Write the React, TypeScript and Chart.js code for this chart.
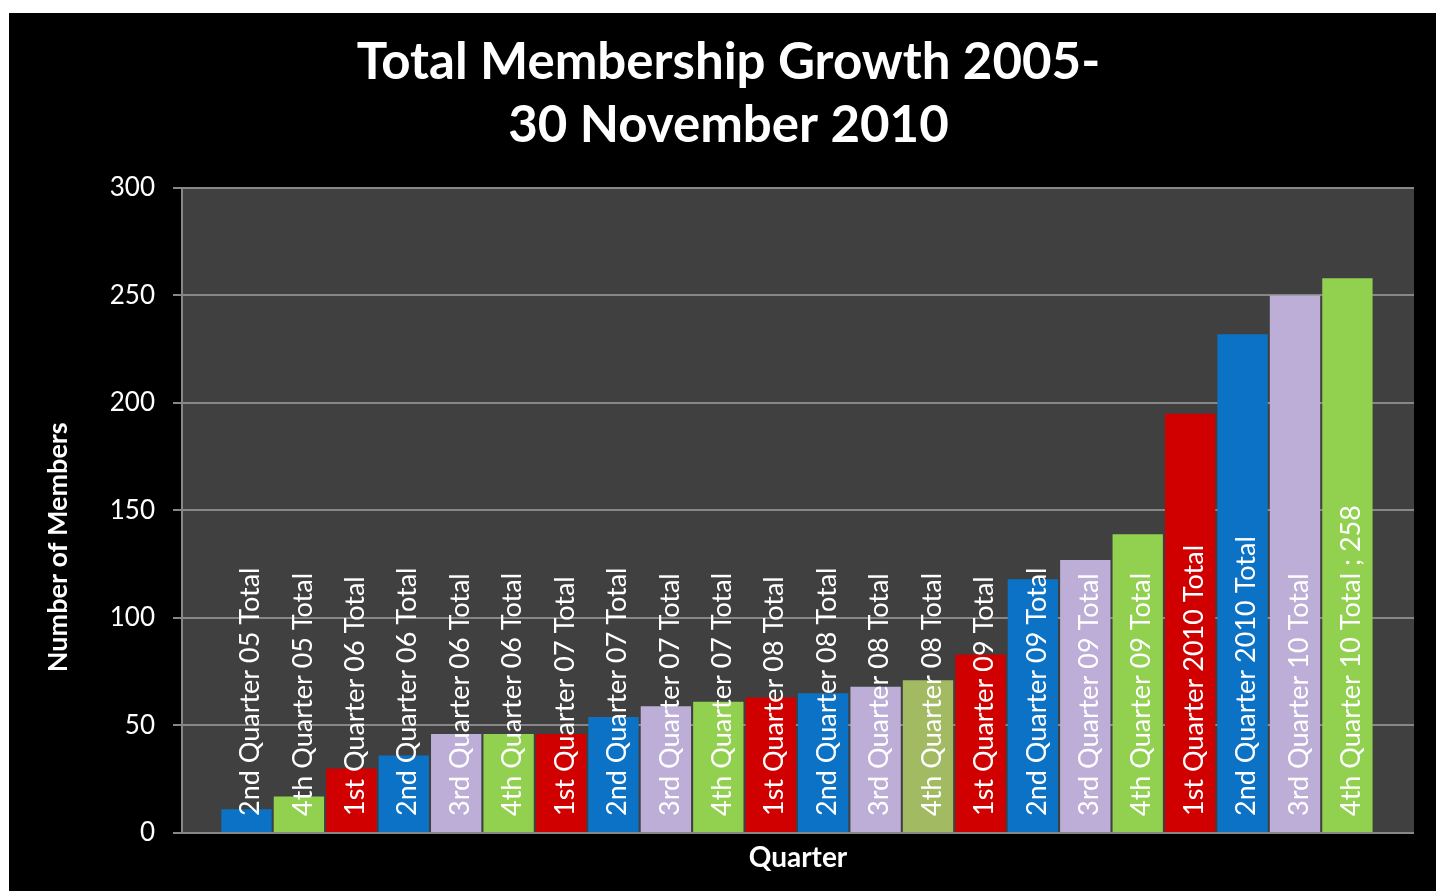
import React, { useEffect, useRef } from "react";
import { Chart, registerables } from "chart.js";

Chart.register(...registerables);

const TITLE_LINES = ["Total Membership Growth 2005-", "30 November 2010"];
const Y_TITLE = "Number of Members";
const X_TITLE = "Quarter";

const CATEGORIES = [
  "2nd Quarter 05 Total",
  "4th Quarter 05 Total",
  "1st Quarter 06 Total",
  "2nd Quarter 06 Total",
  "3rd Quarter 06 Total",
  "4th Quarter 06 Total",
  "1st Quarter 07 Total",
  "2nd Quarter 07 Total",
  "3rd Quarter 07 Total",
  "4th Quarter 07 Total",
  "1st Quarter 08 Total",
  "2nd Quarter 08 Total",
  "3rd Quarter 08 Total",
  "4th Quarter 08 Total",
  "1st Quarter 09 Total",
  "2nd Quarter 09 Total",
  "3rd Quarter 09 Total",
  "4th Quarter 09 Total",
  "1st Quarter 2010 Total",
  "2nd Quarter 2010 Total",
  "3rd Quarter 10 Total",
  "4th Quarter 10 Total",
];

const MEMBERS = [11, 17, 30, 36, 46, 46, 46, 54, 59, 61, 63, 65, 68, 71, 83, 118, 127, 139, 195, 232, 250, 258];

const BLUE = "#0b72c6";
const GREEN = "#92d050";
const RED = "#d00000";
const LAVENDER = "#bcaed6";
const OLIVE = "#a2ba62";

const BAR_COLORS = [
  BLUE, GREEN, RED, BLUE, LAVENDER, GREEN, RED, BLUE, LAVENDER, GREEN, RED,
  BLUE, LAVENDER, OLIVE, RED, BLUE, LAVENDER, GREEN, RED, BLUE, LAVENDER, GREEN,
];

const Y_TICKS = [0, 50, 100, 150, 200, 250, 300];

const FONT = "Lato, 'Open Sans', sans-serif";

export default function App() {
  const canvasRef = useRef<HTMLCanvasElement | null>(null);

  useEffect(() => {
    if (!canvasRef.current) return;
    const last = CATEGORIES.length - 1;
    const labels = CATEGORIES.map((c, i) => (i === last ? `${c} ; ${MEMBERS[i]}` : c));

    const backgroundPlugin = {
      id: "bgPlot",
      beforeDraw(chart: any) {
        const { ctx, chartArea, width, height } = chart;
        ctx.save();
        ctx.fillStyle = "#000000";
        ctx.fillRect(0, 0, width, height);
        ctx.fillStyle = "#404040";
        ctx.fillRect(chartArea.left, chartArea.top, chartArea.right - chartArea.left, chartArea.bottom - chartArea.top);
        ctx.restore();
      },
    };

    const labelPlugin = {
      id: "barLabels",
      afterDatasetsDraw(chart: any) {
        const { ctx, chartArea } = chart;
        const meta = chart.getDatasetMeta(0);
        ctx.save();
        ctx.fillStyle = "#ffffff";
        ctx.font = `27px ${FONT}`;
        ctx.textAlign = "left";
        ctx.textBaseline = "middle";
        meta.data.forEach((el: any, i: number) => {
          ctx.save();
          ctx.translate(el.x + 4, chartArea.bottom - 17);
          ctx.rotate(-Math.PI / 2);
          ctx.fillText(labels[i], 0, 0);
          ctx.restore();
        });
        ctx.restore();
      },
      afterDraw(chart: any) {
        const { ctx, chartArea } = chart;
        ctx.save();
        ctx.fillStyle = "#ffffff";
        ctx.font = `bold 27px ${FONT}`;
        ctx.textAlign = "center";
        ctx.textBaseline = "middle";
        const h = chartArea.bottom - chartArea.top;
        ctx.translate(49, chartArea.top + h * 0.557);
        ctx.rotate(-Math.PI / 2);
        ctx.fillText(Y_TITLE, 0, 0);
        ctx.restore();
      },
    };

    const chart = new Chart(canvasRef.current, {
      type: "bar",
      data: {
        datasets: [
          {
            label: "Members",
            data: MEMBERS.map((v, i) => ({ x: i, y: v })),
            backgroundColor: BAR_COLORS,
            borderWidth: 0,
            barPercentage: 0.96,
            categoryPercentage: 1,
          },
        ],
      },
      options: {
        animation: false,
        responsive: true,
        maintainAspectRatio: false,
        layout: { padding: { left: 34, right: 22, top: 0, bottom: 0 } },
        plugins: {
          legend: { display: false },
          tooltip: { enabled: false },
          title: {
            display: true,
            text: TITLE_LINES,
            color: "#ffffff",
            font: { family: FONT, size: 51, weight: "bold", lineHeight: 1.235 },
            padding: { top: 18, bottom: 31 },
          },
        },
        scales: {
          x: {
            type: "linear",
            offset: false,
            min: -1.23,
            max: 22.27,
            ticks: { display: false },
            grid: { display: false },
            border: { display: false },
            title: {
              display: true,
              text: X_TITLE,
              color: "#ffffff",
              font: { family: FONT, size: 28, weight: "bold", lineHeight: 1.2 },
              padding: { top: 0, bottom: 16 },
            },
            afterFit(scale: any) {
              scale.height = 58;
            },
          },
          y: {
            min: 0,
            max: 300,
            afterBuildTicks(scale: any) {
              scale.ticks = Y_TICKS.map((v) => ({ value: v }));
            },
            ticks: {
              color: "#ffffff",
              font: { family: FONT, size: 26 },
              padding: 18,
            },
            grid: { color: "#878787", lineWidth: 2, tickLength: 9, drawTicks: true },
            border: { display: true, color: "#878787", width: 2 },
            afterFit(scale: any) {
              scale.width = 139;
            },
          },
        },
      },
      plugins: [backgroundPlugin, labelPlugin],
    } as any);

    return () => chart.destroy();
  }, []);

  return (
    <div style={{ position: "fixed", left: 9, top: 13, width: 1427, height: 878, background: "#000" }}>
      <canvas ref={canvasRef} />
    </div>
  );
}
